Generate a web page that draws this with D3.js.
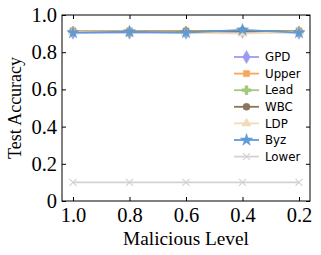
<!DOCTYPE html>
<html>
<head>
<meta charset="utf-8">
<script src="https://cdn.jsdelivr.net/npm/d3@7"></script>
<style>
  body { margin: 0; background: #fff; }
</style>
</head>
<body>
<div id="container"></div>
<script>
const levels = [1.0, 0.8, 0.6, 0.4, 0.2];
const xTickLabels = ['1.0', '0.8', '0.6', '0.4', '0.2'];
const yTicks = [0, 0.2, 0.4, 0.6, 0.8, 1.0];
const yTickLabels = ['0', '0.2', '0.4', '0.6', '0.8', '1.0'];

const gpd = [0.905, 0.905, 0.905, 0.91, 0.905];
const upper = [0.915, 0.915, 0.915, 0.915, 0.915];
const lead = [0.91, 0.91, 0.91, 0.915, 0.91];
const wbc = [0.91, 0.91, 0.91, 0.915, 0.91];
const ldp = [0.91, 0.91, 0.905, 0.9, 0.91];
const byz = [0.905, 0.91, 0.905, 0.92, 0.905];
const lower = [0.1, 0.1, 0.1, 0.1, 0.1];

const seriesNames = ['GPD', 'Upper', 'Lead', 'WBC', 'LDP', 'Byz', 'Lower'];
const seriesValues = [gpd, upper, lead, wbc, ldp, byz, lower];
const seriesColors = ['#9b9bf0', '#f7a65b', '#a3c97a', '#8c7558', '#f2dcb8', '#5e9bd6', '#d2d2d2'];
const seriesMarkers = ['diamond', 'square', 'plus', 'circle', 'triangle', 'star', 'x'];

const W = 321, H = 255;
const m = { left: 62, right: 11, top: 15, bottom: 54 };

const svg = d3.select('#container').append('svg')
  .attr('width', W).attr('height', H);

const x = d3.scalePoint().domain(levels).range([73, 299]);
const y = d3.scaleLinear().domain([0, 1]).range([H - m.bottom, m.top]);

const plotL = m.left, plotR = W - m.right, plotT = m.top, plotB = H - m.bottom;

// frame
svg.append('rect')
  .attr('x', plotL).attr('y', plotT)
  .attr('width', plotR - plotL).attr('height', plotB - plotT)
  .attr('fill', 'none').attr('stroke', '#000').attr('stroke-width', 1);

// axes with inward ticks
const serif = '"Liberation Serif", "Times New Roman", serif';
const sans = '"DejaVu Sans", sans-serif';

const bottomAxis = svg.append('g').attr('transform', `translate(0,${plotB})`)
  .call(d3.axisBottom(x).tickSize(-4).tickPadding(6).tickFormat((d, i) => xTickLabels[i]));
const topAxis = svg.append('g').attr('transform', `translate(0,${plotT})`)
  .call(d3.axisTop(x).tickSize(-4).tickFormat(''));
const leftAxis = svg.append('g').attr('transform', `translate(${plotL},0)`)
  .call(d3.axisLeft(y).tickValues(yTicks).tickSize(-4).tickPadding(5).tickFormat((d, i) => yTickLabels[i]));
const rightAxis = svg.append('g').attr('transform', `translate(${plotR},0)`)
  .call(d3.axisRight(y).tickValues(yTicks).tickSize(-4).tickFormat(''));

[bottomAxis, topAxis, leftAxis, rightAxis].forEach(g => {
  g.select('.domain').remove();
  g.selectAll('.tick line').attr('stroke', '#000');
  g.selectAll('text').attr('font-family', serif).attr('font-size', 20.5).attr('fill', '#000');
});

// marker shapes
const symbolFor = {
  diamond: d3.symbolDiamond,
  square: d3.symbolSquare,
  plus: d3.symbolCross,
  circle: d3.symbolCircle,
  triangle: d3.symbolTriangle,
  star: d3.symbolStar,
  x: d3.symbolX
};
const sizeFor = { diamond: 50, square: 38, plus: 44, circle: 40, triangle: 38, star: 46, x: 34 };

function drawMarker(g, kind, color, cx, cy) {
  const p = g.append('path')
    .attr('d', d3.symbol().type(symbolFor[kind]).size(sizeFor[kind])())
    .attr('transform', `translate(${cx},${cy})`);
  if (kind === 'x') {
    p.attr('fill', 'none').attr('stroke', color).attr('stroke-width', 1.2);
  } else {
    p.attr('fill', color).attr('stroke', color).attr('stroke-width', 0.5);
  }
}

const line = d3.line().x((d, i) => x(levels[i])).y(d => y(d));

seriesValues.forEach((vals, si) => {
  const g = svg.append('g');
  g.append('path').datum(vals)
    .attr('d', line)
    .attr('fill', 'none')
    .attr('stroke', seriesColors[si])
    .attr('stroke-width', 1.8);
  vals.forEach((v, i) => drawMarker(g, seriesMarkers[si], seriesColors[si], x(levels[i]), y(v)));
});

// legend
const legend = svg.append('g');
seriesNames.forEach((name, i) => {
  const ly = 57 + i * 16.6;
  const row = legend.append('g');
  row.append('line')
    .attr('x1', 234).attr('x2', 259).attr('y1', ly).attr('y2', ly)
    .attr('stroke', seriesColors[i]).attr('stroke-width', 1.8);
  drawMarker(row, seriesMarkers[i], seriesColors[i], 246.5, ly);
  row.append('text')
    .attr('x', 265).attr('y', ly).attr('dy', '0.35em')
    .attr('font-family', sans).attr('font-size', 11.8).attr('fill', '#000')
    .text(name);
});

// axis titles
svg.append('text')
  .attr('x', (plotL + plotR) / 2).attr('y', 245)
  .attr('text-anchor', 'middle')
  .attr('font-family', serif).attr('font-size', 19.3).attr('fill', '#000')
  .text('Malicious Level');

svg.append('text')
  .attr('transform', `translate(21,${(plotT + plotB) / 2}) rotate(-90)`)
  .attr('text-anchor', 'middle')
  .attr('font-family', serif).attr('font-size', 18).attr('fill', '#000')
  .text('Test Accuracy');
</script>
</body>
</html>
